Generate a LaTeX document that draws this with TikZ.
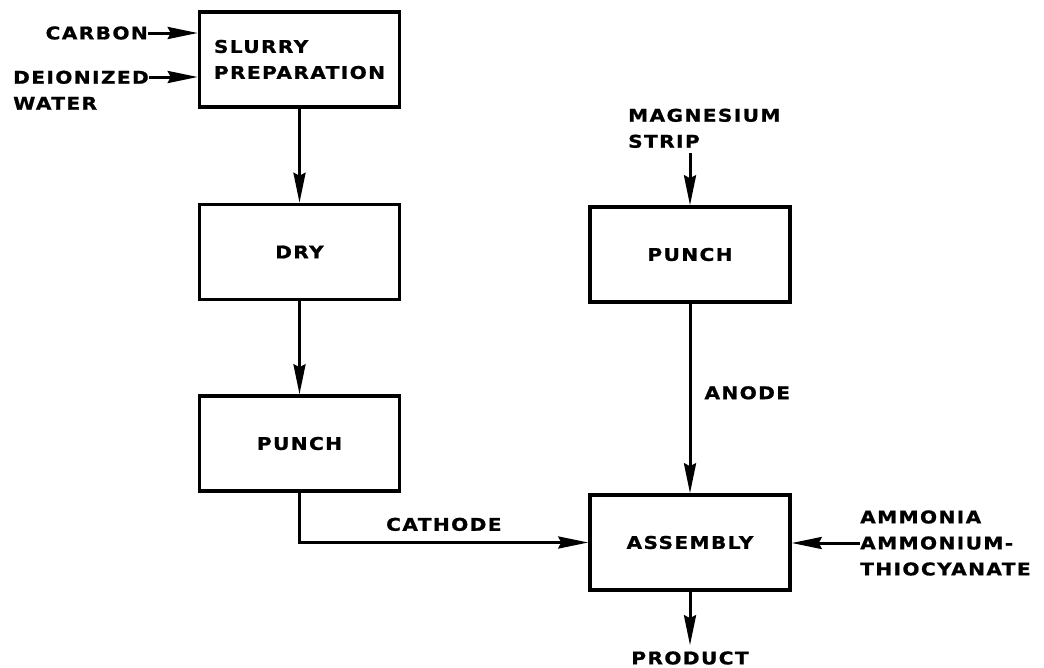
\documentclass[tikz,border=0pt]{standalone}
\usepackage{fontspec}
\setmainfont{DejaVu Sans}[FakeStretch=1.15, LetterSpace=8, BoldFeatures={FakeBold=1}]
\usetikzlibrary{arrows.meta, positioning}
\tikzset{
  stagebox/.style={draw, line width=3.5pt, minimum width=200pt, minimum height=95pt, inner sep=0pt, align=left},
  flow/.style={line width=3pt, -{Stealth[length=30pt, width=12pt, inset=3pt]}},
  tag/.style={inner sep=0pt, align=left},
}

\begin{document}
\begin{tikzpicture}[x=1pt, y=-1pt, every node/.style={font=\bfseries\fontsize{17.5}{26}\selectfont}]
    \useasboundingbox (0,0) rectangle (1044,667);
    % cathode line
    \node[stagebox] (slurry) at (299.5,59.5) {SLURRY\\PREPARATION};
    \node[stagebox] (dry) at (299.5,252) {DRY};
    \node[stagebox] (punchc) at (299.5,443.5) {PUNCH};
    % anode line
    \node[stagebox] (puncha) at (690,254.5) {PUNCH};
    \node[stagebox] (assembly) at (690,542.5) {ASSEMBLY};
    % inputs
    \node[tag, anchor=east] (carbon) at (148,33) {CARBON};
    \node[tag, anchor=north west] (water) at (13,70.5) {DEIONIZED\\WATER};
    \coordinate (waterin) at ([yshift=-6.5pt]water.north east);
    \node[tag, anchor=north west] (magnesium) at (628,108.5) {MAGNESIUM\\STRIP};
    \coordinate (stripin) at ([yshift=-5pt]magnesium.south -| puncha.north);
    \node[tag, anchor=west] (ammonia) at (860,543) {AMMONIA\\AMMONIUM-\\THIOCYANATE};
    \node[tag] (product) at (690,658) {PRODUCT};
    % flows
    \draw[flow] (carbon) -- (carbon -| slurry.west);
    \draw[flow] (waterin) -- (waterin -| slurry.west);
    \draw[flow] (slurry) -- (dry);
    \draw[flow] (dry) -- (punchc);
    \draw[flow] (stripin) -- (puncha.north);
    \draw[flow] (puncha) -- node[tag, right=13pt, pos=0.47] {ANODE} (assembly);
    \draw[flow] (punchc) |- node[tag, above=10pt, pos=0.75] {CATHODE} (assembly);
    \draw[flow] (ammonia) -- (ammonia -| assembly.east);
    \draw[flow, shorten >=6pt] (assembly) -- (product);
  \end{tikzpicture}
\end{document}
